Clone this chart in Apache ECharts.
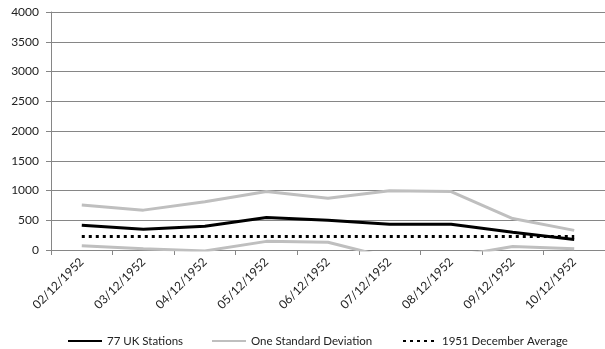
<!DOCTYPE html>
<html><head><meta charset="utf-8">
<script src="https://cdn.jsdelivr.net/npm/echarts@6/dist/echarts.min.js"></script>
<style>html,body{margin:0;padding:0;background:#fff}#c{width:605px;height:349px}</style>
</head><body><div id="c"></div>
<script>
const categories = ['02/12/1952','03/12/1952','04/12/1952','05/12/1952','06/12/1952','07/12/1952','08/12/1952','09/12/1952','10/12/1952'];
const stations = [415, 347, 398, 545, 500, 432, 432, 300, 176];
const sdUpper = [756, 670, 812, 983, 869, 994, 983, 528, 330];
const sdLower = [70, 20, -16, 145, 130, -130, -119, 60, 20];
const decAverage = [228, 228, 228, 228, 228, 228, 228, 228, 228];
const yTicks = {min: 0, max: 4000, interval: 500};
const legendNames = ['77 UK Stations', 'One Standard Deviation', '1951 December Average'];

const font = 'Lato, "Liberation Sans", sans-serif';
const legendLefts = [62, 206, 397];
const legendCommon = {
  top: 330, itemWidth: 34, itemHeight: 14, itemGap: 0,
  itemStyle: {opacity: 0},
  textStyle: {fontFamily: font, fontSize: 11.5, color: '#222'}
};
const chart = echarts.init(document.getElementById('c'));
chart.setOption({
  animation: false,
  textStyle: {fontFamily: font},
  grid: {left: 51, right: -9, top: 12, bottom: 99, containLabel: false},
  legend: legendNames.map((n, i) => Object.assign({}, legendCommon, {left: legendLefts[i], data: [n]})),
  xAxis: {
    type: 'category', data: categories, boundaryGap: true,
    axisLine: {lineStyle: {color: '#868686', width: 1}},
    axisTick: {show: true, alignWithLabel: false, length: 5, lineStyle: {color: '#868686'}},
    axisLabel: {rotate: 45, margin: 10, fontSize: 12, color: '#222', fontFamily: font, interval: 0}
  },
  yAxis: {
    type: 'value', min: yTicks.min, max: yTicks.max, interval: yTicks.interval,
    axisLine: {show: true, lineStyle: {color: '#868686'}},
    axisTick: {show: true, length: 5, lineStyle: {color: '#868686'}},
    splitLine: {lineStyle: {color: '#868686', width: 1}},
    axisLabel: {fontSize: 12, color: '#222', margin: 12, fontFamily: font, formatter: v => String(v)}
  },
  series: [
    {name: legendNames[1], type: 'line', data: sdUpper, symbol: 'none',
     lineStyle: {color: '#BFBFBF', width: 3}, itemStyle: {color: '#BFBFBF'}, z: 1},
    {name: legendNames[1], type: 'line', data: sdLower, symbol: 'none',
     lineStyle: {color: '#BFBFBF', width: 3}, itemStyle: {color: '#BFBFBF'}, z: 1},
    {name: legendNames[2], type: 'line', data: decAverage, symbol: 'none',
     lineStyle: {color: '#000', width: 3, type: [3, 4], cap: 'butt'}, itemStyle: {color: '#000'}, z: 2},
    {name: legendNames[0], type: 'line', data: stations, symbol: 'none',
     lineStyle: {color: '#000', width: 3}, itemStyle: {color: '#000'}, z: 3}
  ]
});
</script></body></html>
